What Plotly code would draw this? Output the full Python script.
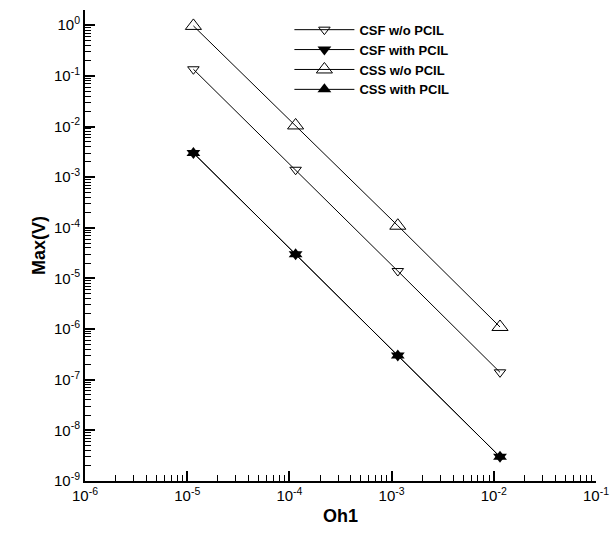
import plotly.graph_objects as go

oh = [1.15e-5, 1.15e-4, 1.15e-3, 1.15e-2]
csf_wo = [1.35e-1, 1.4e-3, 1.4e-5, 1.4e-7]
csf_with = [3.0e-3, 3.0e-5, 3.0e-7, 3.0e-9]
css_wo = [0.97, 1.05e-2, 1.1e-4, 1.1e-6]
css_with = [3.0e-3, 3.0e-5, 3.0e-7, 3.0e-9]

x_tick_exp = [-6, -5, -4, -3, -2, -1]
y_tick_exp = [0, -1, -2, -3, -4, -5, -6, -7, -8, -9]

FONT = "Liberation Sans, Arial"
fig = go.Figure()
line = dict(color="black", width=1)
fig.add_trace(go.Scatter(x=oh, y=csf_wo, name="CSF w/o PCIL", mode="lines+markers", line=line,
                         marker=dict(symbol="triangle-down-open", size=10, color="black", line=dict(width=1))))
fig.add_trace(go.Scatter(x=oh, y=csf_with, name="CSF with PCIL", mode="lines+markers", line=line,
                         marker=dict(symbol="triangle-down", size=12, color="black")))
fig.add_trace(go.Scatter(x=oh, y=css_wo, name="CSS w/o PCIL", mode="lines+markers", line=line,
                         marker=dict(symbol="triangle-up-open", size=14, color="black", line=dict(width=1))))
fig.add_trace(go.Scatter(x=oh, y=css_with, name="CSS with PCIL", mode="lines+markers", line=line,
                         marker=dict(symbol="triangle-up", size=12, color="black")))

axis_common = dict(
    type="log", showgrid=False, zeroline=False, showline=True, linecolor="black", linewidth=2,
    ticks="inside", ticklen=10, tickwidth=2, tickcolor="black",
    minor=dict(ticks="inside", ticklen=6, tickwidth=1, tickcolor="black", dtick="D1", showgrid=False),
    tickfont=dict(family=FONT, size=15, color="black"),
    ticklabeloverflow="allow", automargin=False,
)
fig.update_xaxes(**axis_common, range=[-6.0001, -0.9999],
                 tickvals=[10 ** e for e in x_tick_exp],
                 ticktext=[f"10<sup>{e}</sup>" for e in x_tick_exp],
                 title=dict(text="<b>Oh1</b>", font=dict(family=FONT, size=18, color="black"), standoff=6))
fig.update_yaxes(**axis_common, range=[-9, 0.301],
                 tickvals=[10 ** e for e in y_tick_exp],
                 ticktext=[f"10<sup>{e}</sup>" for e in y_tick_exp],
                 title=dict(text="<b>Max(V)</b>", font=dict(family=FONT, size=18, color="black"), standoff=4))

fig.update_layout(
    width=612, height=534,
    margin=dict(l=85, r=16, t=10, b=53),
    plot_bgcolor="white", paper_bgcolor="white",
    legend=dict(x=0.40, y=0.99, xanchor="left", yanchor="top", bgcolor="rgba(0,0,0,0)",
                font=dict(family=FONT, size=13, color="black", weight="bold"),
                tracegroupgap=0, itemwidth=60),
)
fig.write_html("out.html")
